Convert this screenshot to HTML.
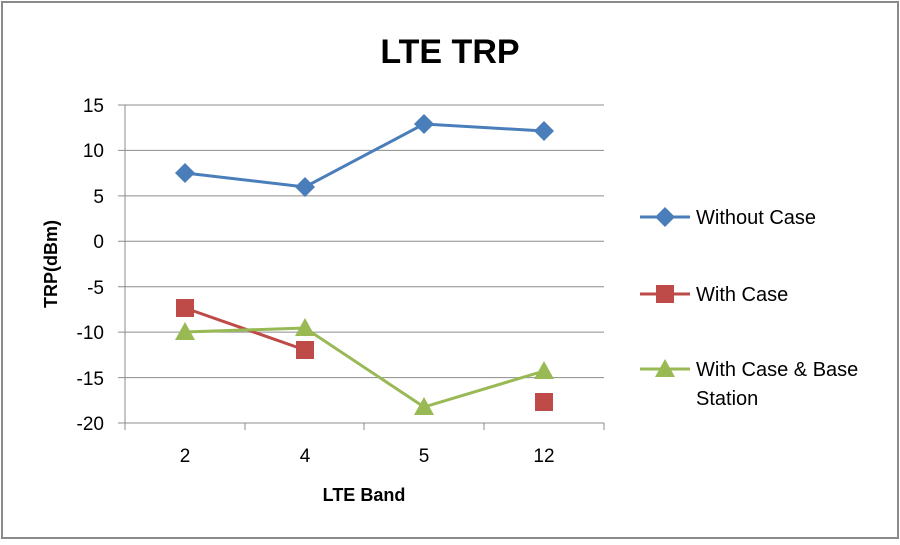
<!DOCTYPE html>
<html><head><style>body{margin:0;background:#fff}</style></head><body>
<svg width="900" height="540" xmlns="http://www.w3.org/2000/svg" font-family="Liberation Sans, sans-serif">
<rect x="2" y="2" width="896" height="536" fill="#fff" stroke="#8a8a8a" stroke-width="2"/>
<text x="450" y="63" text-anchor="middle" font-size="34" font-weight="bold">LTE TRP</text>
<g stroke="#8c8c8c" stroke-width="1">
<line x1="118" y1="105" x2="604" y2="105"/><line x1="118" y1="150.4" x2="604" y2="150.4"/>
<line x1="118" y1="195.9" x2="604" y2="195.9"/><line x1="118" y1="241.3" x2="604" y2="241.3"/>
<line x1="118" y1="286.7" x2="604" y2="286.7"/><line x1="118" y1="332.1" x2="604" y2="332.1"/>
<line x1="118" y1="377.6" x2="604" y2="377.6"/><line x1="118" y1="423" x2="604" y2="423"/>
<line x1="125" y1="105" x2="125" y2="423"/>
<line x1="125" y1="423" x2="125" y2="430"/><line x1="245" y1="423" x2="245" y2="430"/>
<line x1="364" y1="423" x2="364" y2="430"/><line x1="484" y1="423" x2="484" y2="430"/><line x1="604" y1="423" x2="604" y2="430"/>
</g>
<g font-size="19" text-anchor="end" fill="#000">
<text x="104" y="112">15</text><text x="104" y="157">10</text><text x="104" y="203">5</text><text x="104" y="248">0</text>
<text x="104" y="294">-5</text><text x="104" y="339">-10</text><text x="104" y="385">-15</text><text x="104" y="430">-20</text>
</g>
<g font-size="19" text-anchor="middle">
<text x="185" y="462">2</text><text x="305" y="462">4</text><text x="424" y="462">5</text><text x="544" y="462">12</text>
</g>
<text x="364" y="501" text-anchor="middle" font-size="18" font-weight="bold">LTE Band</text>
<text transform="translate(57,264) rotate(-90)" text-anchor="middle" font-size="18" font-weight="bold">TRP(dBm)</text>
<polyline points="185,173 305,187 424,124 544,131" fill="none" stroke="#4a7ebb" stroke-width="3"/>
<g fill="#4a7ebb">
<path d="M185,163 l10,10 l-10,10 l-10,-10z"/><path d="M305,177 l10,10 l-10,10 l-10,-10z"/>
<path d="M424,114 l10,10 l-10,10 l-10,-10z"/><path d="M544,121 l10,10 l-10,10 l-10,-10z"/>
</g>
<polyline points="185,308 305,350" fill="none" stroke="#be4b48" stroke-width="3"/>
<g fill="#be4b48">
<rect x="176" y="299" width="18" height="18"/><rect x="296" y="341" width="18" height="18"/><rect x="535" y="393" width="18" height="18"/>
</g>
<polyline points="185,332 305,328 424,407 544,371" fill="none" stroke="#98b954" stroke-width="3"/>
<g fill="#98b954">
<path d="M185,322 l10,18 h-20z"/><path d="M305,318 l10,18 h-20z"/><path d="M424,397 l10,18 h-20z"/><path d="M544,361 l10,18 h-20z"/>
</g>
<line x1="640" y1="217" x2="690" y2="217" stroke="#4a7ebb" stroke-width="3"/>
<path d="M665,207 l10,10 l-10,10 l-10,-10z" fill="#4a7ebb"/>
<text x="696" y="224" font-size="20">Without Case</text>
<line x1="640" y1="294" x2="690" y2="294" stroke="#be4b48" stroke-width="3"/>
<rect x="656" y="285" width="18" height="18" fill="#be4b48"/>
<text x="696" y="301" font-size="20">With Case</text>
<line x1="640" y1="369" x2="690" y2="369" stroke="#98b954" stroke-width="3"/>
<path d="M665,359 l10,18 h-20z" fill="#98b954"/>
<text x="696" y="376" font-size="20">With Case &amp; Base</text>
<text x="696" y="405" font-size="20">Station</text>
</svg>
</body></html>
